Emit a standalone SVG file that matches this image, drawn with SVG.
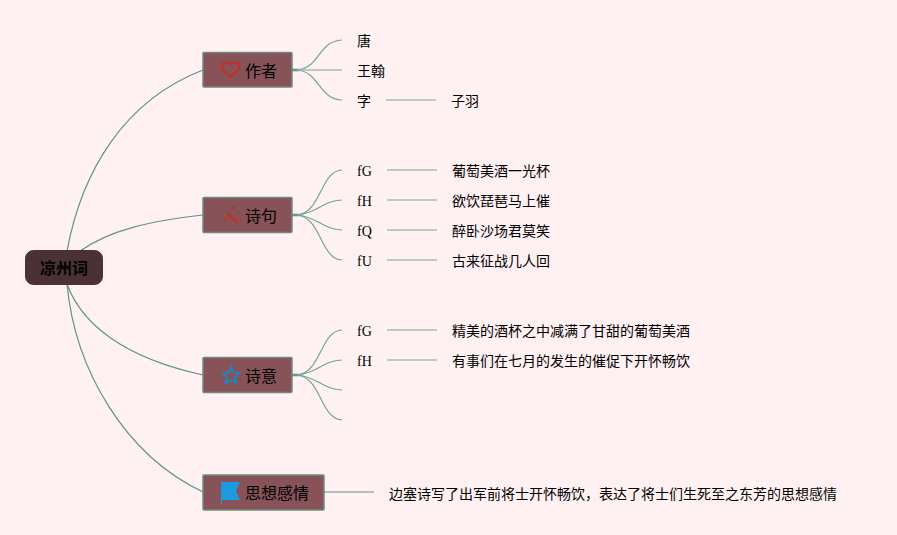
<svg xmlns="http://www.w3.org/2000/svg" width="897" height="535" viewBox="0 0 897 535">
<style>
text{font-family:"Liberation Serif","Noto Sans CJK SC",serif;fill:#000}
.leaf{font-size:14px}
.main{font-size:16px}
.root{font-size:16px;font-weight:700;fill:#000}
.box{fill:#875358;stroke:#6f8a80;stroke-width:1.5}
.rootbox{fill:#4a3136;stroke:#4a3136}
.c{fill:none;stroke:#5f9484;stroke-width:1.2}
.l{fill:none;stroke:#a3bfb2;stroke-width:1.6}
.s{fill:none;stroke:#74a596;stroke-width:1.2}
.t{fill:none;stroke:#5f9a8a;stroke-width:2.6}
</style>
<rect width="897" height="535" fill="#fff0f2"/>
<g id="connectors">
<path class="c" d="M67 251C82 170 125 100 203 70"/>
<path class="c" d="M80 251C110 230 150 221 203 215"/>
<path class="c" d="M67 284C82 325 125 358 203 375"/>
<path class="c" d="M67 284C75 370 125 455 203 492"/>
<path class="t" d="M292 70H299"/><path class="t" d="M292 215H299"/><path class="t" d="M292 375H299"/>
<path class="s" d="M297 70C320 68 318 41 342 40"/>
<path class="l" d="M297 70H342"/>
<path class="s" d="M297 70C320 72 318 99 342 100"/>
<path class="l" d="M386 100H436"/>
<path class="s" d="M297 215C322 212 320 171 342 170"/>
<path class="s" d="M297 215C318 213 322 201 342 200"/>
<path class="s" d="M297 215C318 217 322 229 342 230"/>
<path class="s" d="M297 215C322 218 320 259 342 260"/>
<path class="l" d="M387 170H437"/><path class="l" d="M387 200H437"/><path class="l" d="M387 230H437"/><path class="l" d="M387 260H437"/>
<path class="s" d="M297 375C322 372 320 331 342 330"/>
<path class="s" d="M297 375C318 373 322 361 342 360"/>
<path class="s" d="M297 375C318 377 322 389 342 390"/>
<path class="s" d="M297 375C322 378 320 419 342 420"/>
<path class="l" d="M387 330H437"/><path class="l" d="M387 360H437"/>
<path class="c" d="M324 492H374"/>
</g>
<g id="root"><rect class="rootbox" x="25.500" y="250.500" width="77" height="34" rx="8"/><text class="root" x="40" y="274">凉州词</text></g>
<g id="n1"><rect class="box" x="203" y="52.500" width="89" height="34.500" rx="1"/>
<path d="M230.500 77L224 71C219.500 66.500 222.500 62.500 226 62.500C228 62.500 229.500 63.500 230.500 65C231.500 63.500 233 62.500 235 62.500C238.500 62.500 241.500 66.500 237 71Z" fill="none" stroke="#c0302a" stroke-width="2.200"/>
<text class="main" x="245" y="77">作者</text></g>
<g id="n2"><rect class="box" x="203" y="197.500" width="89" height="35" rx="1"/>
<path d="M227 213L238 223" stroke="#c0302a" stroke-width="2.400" fill="none"/>
<circle cx="224.500" cy="220" r="1.800" fill="#c0302a"/><circle cx="233.500" cy="208" r="1.800" fill="#c0302a"/><circle cx="228" cy="217.500" r="1" fill="#c0302a"/><circle cx="238" cy="214" r="0.800" fill="#c0302a"/>
<text class="main" x="245" y="222">诗句</text></g>
<g id="n3"><rect class="box" x="203" y="357.500" width="89" height="35" rx="1"/>
<path d="M231 367L233.500 372.500L239 373.200L235 377.300L236.200 383L231 380.200L225.800 383L227 377.300L223 373.200L228.500 372.500Z" fill="none" stroke="#2b7fb8" stroke-width="2.200"/>
<text class="main" x="245" y="382">诗意</text></g>
<g id="n4"><rect class="box" x="203" y="475" width="121" height="35" rx="1"/>
<path d="M221 482H240L236 491L240 500H222V504H221Z" fill="#1a9be0"/>
<text class="main" x="245" y="499">思想感情</text></g>
<g id="leaves">
<text class="leaf" x="357" y="46">唐</text>
<text class="leaf" x="357" y="76">王翰</text>
<text class="leaf" x="357" y="106">字</text>
<text class="leaf" x="451" y="106">子羽</text>
<text class="leaf" x="357" y="176">fG</text><text class="leaf" x="452" y="176">葡萄美酒一光杯</text>
<text class="leaf" x="357" y="206">fH</text><text class="leaf" x="452" y="206">欲饮琵琶马上催</text>
<text class="leaf" x="357" y="236">fQ</text><text class="leaf" x="452" y="236">醉卧沙场君莫笑</text>
<text class="leaf" x="357" y="266">fU</text><text class="leaf" x="452" y="266">古来征战几人回</text>
<text class="leaf" x="357" y="336">fG</text><text class="leaf" x="452" y="336">精美的酒杯之中减满了甘甜的葡萄美酒</text>
<text class="leaf" x="357" y="366">fH</text><text class="leaf" x="452" y="366">有事们在七月的发生的催促下开怀畅饮</text>
<text class="leaf" x="389" y="499">边塞诗写了出军前将士开怀畅饮，表达了将士们生死至之东芳的思想感情</text>
</g>
</svg>
